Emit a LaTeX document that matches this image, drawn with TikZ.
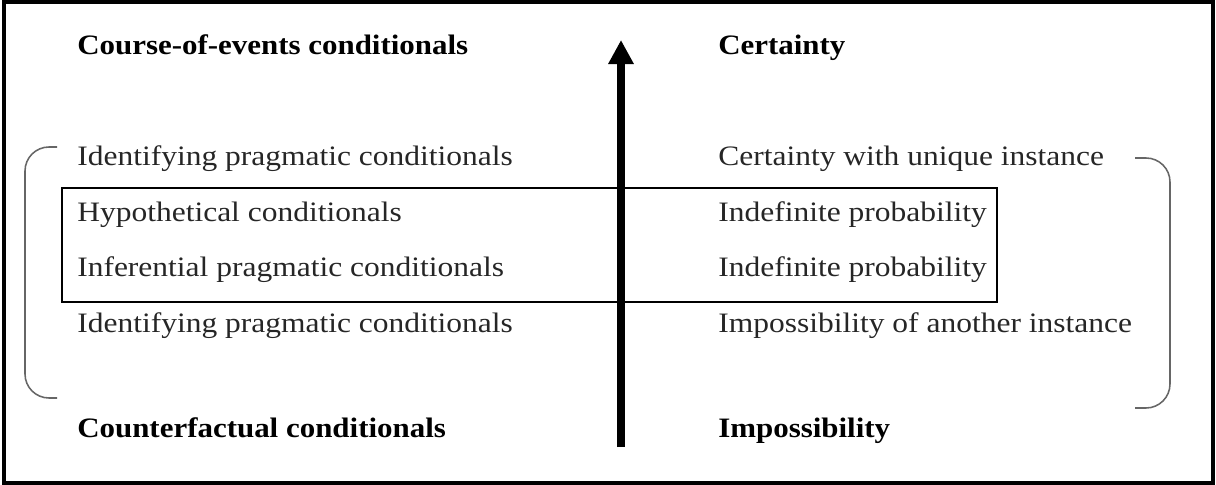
\documentclass[tikz,border=0pt]{standalone}
\usepackage{fontspec}
\setmainfont{Liberation Serif}
\usetikzlibrary{arrows.meta}
\newcommand{\ROWTEXT}[1]
{
    {\fontsize{20pt}{24pt}\selectfont \scalebox{1.12}[1]{\textcolor{black!85}{#1}}}
}
\newcommand{\HEADTEXT}[1]
{
    {\fontsize{20pt}{24pt}\selectfont\bfseries \scalebox{1.1}[1]{\textcolor{black}{#1}}}
}
\tikzset{
  rowtext/.style={anchor=base west,inner sep=0pt},
  bracketline/.style={draw=black!60,line width=1.1pt,rounded corners=0.6cm},
}

\begin{document}
\begin{tikzpicture}[x=0.025cm,y=-0.025cm]
        \useasboundingbox (0,0) rectangle (1216,485);
        % frame and box round the middle rows
        \draw[line width=2.2pt] (4,2) rectangle (1213,483);
        \draw[line width=1pt] (62,188) rectangle (997,302);
        % scale arrow
        \coordinate (scalebottom) at (621,447);
        \coordinate (scaletop) at (621,40);
        \draw[line width=5pt,-{Triangle[width=0.6cm,length=0.6cm]}] (scalebottom) -- (scaletop);
        % left column
        \node[rowtext] (course) at (77,55) {\HEADTEXT{Course-of-events conditionals}};
        \node[rowtext] (identtop) at (77,165) {\ROWTEXT{Identifying pragmatic conditionals}};
        \node[rowtext] (hypo) at (77,221) {\ROWTEXT{Hypothetical conditionals}};
        \node[rowtext] (infer) at (77,276) {\ROWTEXT{Inferential pragmatic conditionals}};
        \node[rowtext] (identbot) at (77,332) {\ROWTEXT{Identifying pragmatic conditionals}};
        \node[rowtext] (counter) at (77,437) {\HEADTEXT{Counterfactual conditionals}};
        % right column
        \node[rowtext] (certainty) at (718,55) {\HEADTEXT{Certainty}};
        \node[rowtext] (unique) at (718,165) {\ROWTEXT{Certainty with unique instance}};
        \node[rowtext] (indefone) at (718,221) {\ROWTEXT{Indefinite probability}};
        \node[rowtext] (indeftwo) at (718,276) {\ROWTEXT{Indefinite probability}};
        \node[rowtext] (another) at (718,332) {\ROWTEXT{Impossibility of another instance}};
        \node[rowtext] (impossible) at (718,437) {\HEADTEXT{Impossibility}};
        % brackets
        \draw[bracketline] (57,147) -- (25,147) -- (25,398) -- (57,398);
        \draw[bracketline] (1135,158) -- (1170,158) -- (1170,408) -- (1135,408);
    \end{tikzpicture}
\end{document}
